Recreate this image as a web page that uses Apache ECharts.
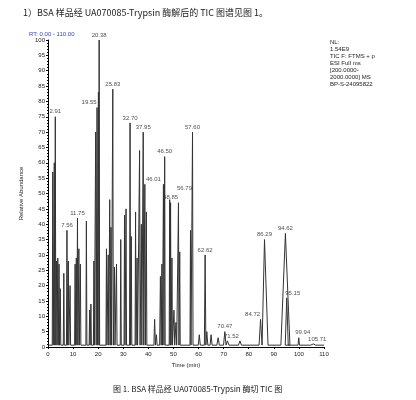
<!DOCTYPE html>
<html><head><meta charset="utf-8">
<script src="https://cdn.jsdelivr.net/npm/echarts@6/dist/echarts.min.js"></script>
<style>body{margin:0;background:#fff}#c{width:416px;height:400px}</style>
</head><body><div id="c"></div>
<script>
// peak apex times (min), heights (% relative abundance), half widths (min)
const peakTimes =   [1.9, 2.5, 2.91, 3.4, 3.9, 4.4, 4.9, 6.3, 7.56, 8.1, 8.8, 10.8, 11.3, 11.75, 12.3, 12.9, 15.3, 16.6, 17.1, 18.3, 19.0, 19.55, 20.1, 20.38, 23.3, 24.0, 24.6, 25.1, 25.83, 26.5, 27.3, 29.0, 30.5, 31.1, 32.70, 33.2, 34.9, 35.5, 36.5, 37.2, 37.95, 38.6, 39.2, 42.5, 43.2, 44.8, 45.4, 46.01, 46.50, 48.5, 48.85, 49.4, 50.2, 51.0, 52.0, 52.5, 56.79, 57.60, 60.3, 62.62, 63.3, 65.0, 67.8, 70.47, 71.52, 76.5, 84.72, 86.29, 94.62, 95.15, 99.94, 105.71];
const peakHeights = [57, 60, 75, 28, 29, 27, 19, 24, 38, 28, 20, 27, 29, 42, 32, 27, 41, 12, 14, 28, 70, 78, 83, 100, 32, 30, 48, 39, 84, 26, 27, 35, 43, 45, 73, 36, 44, 29, 64, 40, 70, 53, 44, 9, 4, 23, 27, 53, 62, 48, 47, 29, 12, 8, 47, 31, 38, 70, 4, 30, 5, 4, 3, 5, 2, 2, 9, 35, 37, 16, 3, 1];
const peakWidths =  [0.2, 0.2, 0.2, 0.2, 0.2, 0.2, 0.2, 0.2, 0.2, 0.2, 0.2, 0.2, 0.2, 0.2, 0.2, 0.2, 0.2, 0.2, 0.2, 0.2, 0.2, 0.2, 0.2, 0.2, 0.2, 0.2, 0.2, 0.2, 0.2, 0.2, 0.2, 0.2, 0.2, 0.2, 0.2, 0.2, 0.2, 0.2, 0.2, 0.2, 0.2, 0.2, 0.2, 0.3, 0.3, 0.3, 0.2, 0.2, 0.2, 0.2, 0.2, 0.2, 0.3, 0.3, 0.2, 0.2, 0.2, 0.2, 0.4, 0.3, 0.4, 0.4, 0.5, 0.5, 0.6, 0.6, 0.6, 1.4, 1.8, 0.6, 0.3, 1.0];
const baseline = 0.6;
// labelled peaks
const labelTimes = ['2.91', '7.56', '11.75', '19.55', '20.38', '25.83', '32.70', '37.95', '46.01', '46.50', '48.85', '56.79', '57.60', '62.62', '70.47', '71.52', '84.72', '86.29', '94.62', '95.15', '99.94', '105.71'];
const labelHeights = [75, 38, 42, 78, 100, 84, 73, 70, 53, 62, 47, 50, 70, 30, 5, 2, 9, 35, 37, 16, 3, 1];
const labelOffsets = [[0, 0], [0, 0], [0, 0], [-8, 0], [0, 0], [0, 0], [0, 0], [0, 0], [-10, 0], [0, 0], [0, 0], [-6, 0], [0, 0], [0, 0], [0, 0], [4, 0], [-8, 0], [0, 0], [0, 0], [6, 0], [4, 0], [4, 0]];

const trace = [[0, baseline]];
peakTimes.forEach((t, i) => {
  trace.push([t - peakWidths[i], baseline]);
  trace.push([t, peakHeights[i]]);
  trace.push([t + peakWidths[i], baseline]);
});
trace.push([110, baseline]);

const chart = echarts.init(document.getElementById('c'));
const font = 'Liberation Sans, Arial, sans-serif';
chart.setOption({
  animation: false,
  textStyle: { fontFamily: font },
  title: [
    { text: '1）BSA 样品经 UA070085-Trypsin 酶解后的 TIC 图谱见图 1。', left: 18, top: 3,
      textStyle: { fontSize: 9, fontWeight: 'normal', color: '#222', fontFamily: 'Noto Sans CJK SC' } },
    { text: 'RT: 0.00 - 110.00', left: 24, top: 26, textStyle: { fontSize: 6, fontWeight: 'normal', color: '#3344cc' } },
    { text: 'NL:\n1.54E9\nTIC F: FTMS + p\nESI Full ms\n[200.0000-\n2000.0000] MS\nBP-S-24095822', left: 325, top: 34,
      textStyle: { fontSize: 6, fontWeight: 'normal', color: '#222', lineHeight: 7 } },
    { text: '图 1. BSA 样品经 UA070085-Trypsin 酶切 TIC 图', left: 108, top: 380,
      textStyle: { fontSize: 8, fontWeight: 'normal', color: '#222', fontFamily: 'Noto Sans CJK SC' } }
  ],
  grid: { left: 48, right: 92, top: 40, bottom: 53 },
  xAxis: {
    type: 'value', min: 0, max: 110, interval: 10,
    name: 'Time (min)', nameLocation: 'middle', nameGap: 14,
    nameTextStyle: { fontSize: 6, color: '#222' },
    axisLine: { lineStyle: { color: '#000' } },
    axisTick: { length: 2, lineStyle: { color: '#000' } },
    minorTick: { show: true, splitNumber: 5, length: 1 },
    axisLabel: { fontSize: 6, color: '#222', margin: 4 },
    splitLine: { show: false }
  },
  yAxis: {
    type: 'value', min: 0, max: 100, interval: 5,
    name: 'Relative Abundance', nameLocation: 'middle', nameGap: 18,
    nameTextStyle: { fontSize: 6, color: '#222' },
    axisLine: { show: true, lineStyle: { color: '#000' } },
    axisTick: { show: true, length: 2, lineStyle: { color: '#000' } },
    minorTick: { show: true, splitNumber: 5, length: 1 },
    axisLabel: { fontSize: 6, color: '#222', margin: 3 },
    splitLine: { show: false }
  },
  series: [
    { type: 'line', data: trace, symbol: 'none', lineStyle: { color: '#333', width: 1 } },
    { type: 'scatter', symbolSize: 0,
      data: labelTimes.map((t, i) => ({ value: [Number(t), labelHeights[i]],
        label: { show: true, position: 'top', offset: labelOffsets[i], distance: 2, formatter: t, fontSize: 6, color: '#222' } })) }
  ]
});
</script></body></html>
